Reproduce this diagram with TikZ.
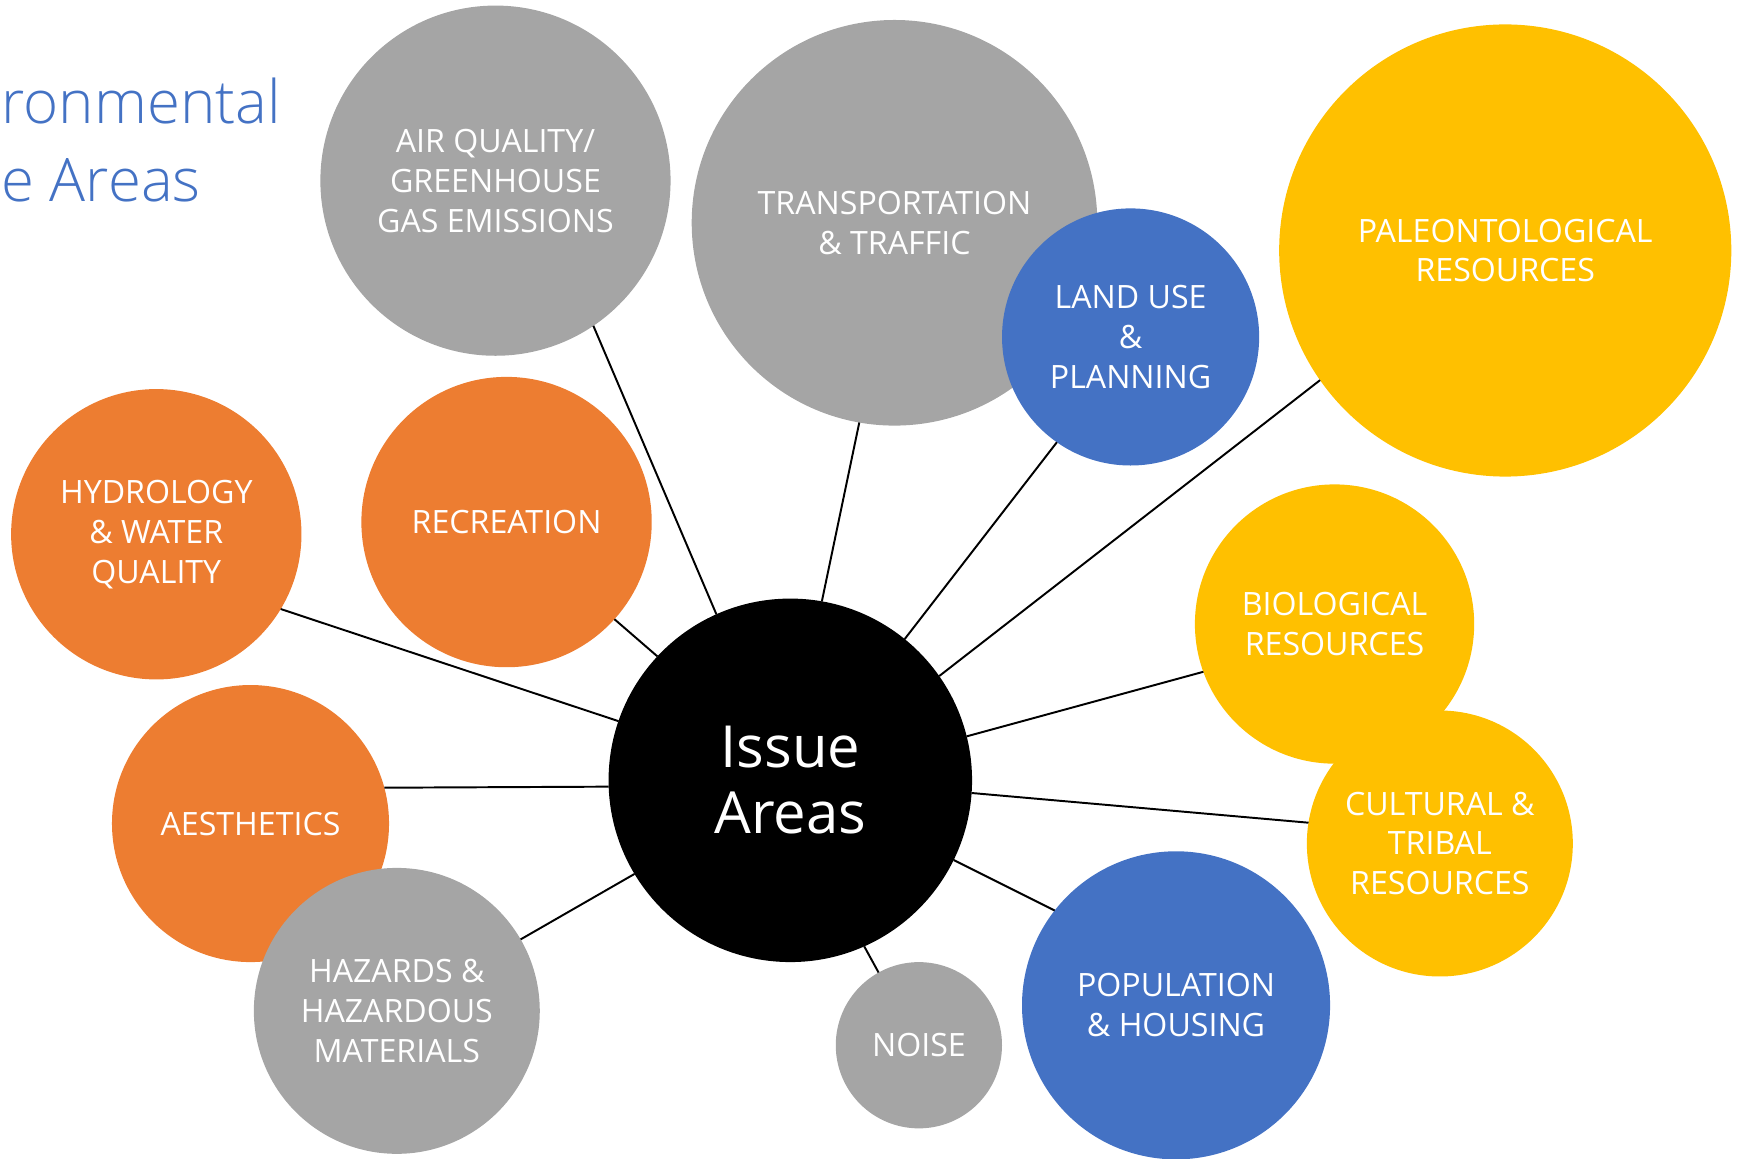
\documentclass[tikz,border=0pt]{standalone}
\usepackage{fontspec}
\setmainfont{Open Sans}
\newfontfamily\lightfont{Open Sans Light}
\usepackage{tikz}
\usetikzlibrary{positioning}

\definecolor{grayB}{HTML}{A5A5A5}
\definecolor{orangeB}{HTML}{ED7D31}
\definecolor{blueB}{HTML}{4472C4}
\definecolor{goldB}{HTML}{FFC000}

\tikzset{
    bubble/.style = {circle, inner sep = 0pt, outer sep = 0pt, text = white, align = center,
        font = \fontsize{16.5pt}{20.5pt}\selectfont},
    titletext/.style = {anchor = base west, text = blueB, inner sep = 0pt,
        font = \lightfont\fontsize{30.8pt}{37pt}\selectfont},
    edge/.style = {line width = 1pt, black}
}

\begin{document}
\begin{tikzpicture}[x = 0.02cm, y = 0.02cm]
        \clip (0,0) rectangle (1568,1045);

        % Title
        \node[titletext] (T1) at (1,934) {ronmental};
        \node[titletext] (T2) at (1,863) {e Areas};

        \node[bubble, fill = grayB, minimum size = 6.32cm] (AQ) at (447,882) {AIR QUALITY/\\GREENHOUSE\\GAS EMISSIONS};
        \node[bubble, fill = grayB, minimum size = 7.32cm] (TT) at (807,844) {TRANSPORTATION\\\& TRAFFIC};
        \node[bubble, fill = blueB, minimum size = 4.64cm] (LU) at (1020,741) {LAND USE\\\&\\PLANNING};
        \node[bubble, fill = goldB, minimum size = 8.16cm] (PR) at (1358,819) {PALEONTOLOGICAL\\RESOURCES};
        \node[bubble, fill = orangeB, minimum size = 5.24cm] (HW) at (141,563) {HYDROLOGY\\\& WATER\\QUALITY};
        \node[bubble, fill = orangeB, minimum size = 5.24cm] (RE) at (457,574) {RECREATION};
        \node[bubble, fill = goldB, minimum size = 5.04cm] (BR) at (1204,482) {BIOLOGICAL\\RESOURCES};
        \node[bubble, fill = goldB, minimum size = 4.80cm] (CT) at (1299,284) {CULTURAL \&\\TRIBAL\\RESOURCES};
        \node[bubble, fill = orangeB, minimum size = 5.00cm] (AE) at (226,302) {AESTHETICS};
        \node[bubble, fill = grayB, minimum size = 5.16cm] (HZ) at (358,133) {HAZARDS \&\\HAZARDOUS\\MATERIALS};
        \node[bubble, fill = grayB, minimum size = 3.00cm] (NO) at (829,102) {NOISE};
        \node[bubble, fill = blueB, minimum size = 5.56cm] (PH) at (1061,138) {POPULATION\\\& HOUSING};
        \node[bubble, fill = black, minimum size = 6.56cm, font = \fontsize{29.8pt}{33.8pt}\selectfont] (IA) at (713,341) {Issue\\Areas};

        % Edges
        \draw[edge] (IA.114.6) -- (AQ.-56.6);
        \draw[edge] (IA.80.1) -- (TT.-100.9);
        \draw[edge] (IA.51.4) -- (LU.-125.2);
        \draw[edge] (IA.35.8) -- (PR.-145.2);
        \draw[edge] (IA.14.1) -- (BR.-160.6);
        \draw[edge] (IA.-4.9) -- (CT.171.4);
        \draw[edge] (IA.-26.1) -- (PH.142.1);
        \draw[edge] (IA.-66.6) -- (NO.119.6);
        \draw[edge] (IA.-149.5) -- (HZ.30.7);
        \draw[edge] (IA.182) -- (AE.15.3);
        \draw[edge] (IA.161) -- (HW.-31.4);
        \draw[edge] (IA.137.7) -- (RE.-42.3);
\end{tikzpicture}
\end{document}
